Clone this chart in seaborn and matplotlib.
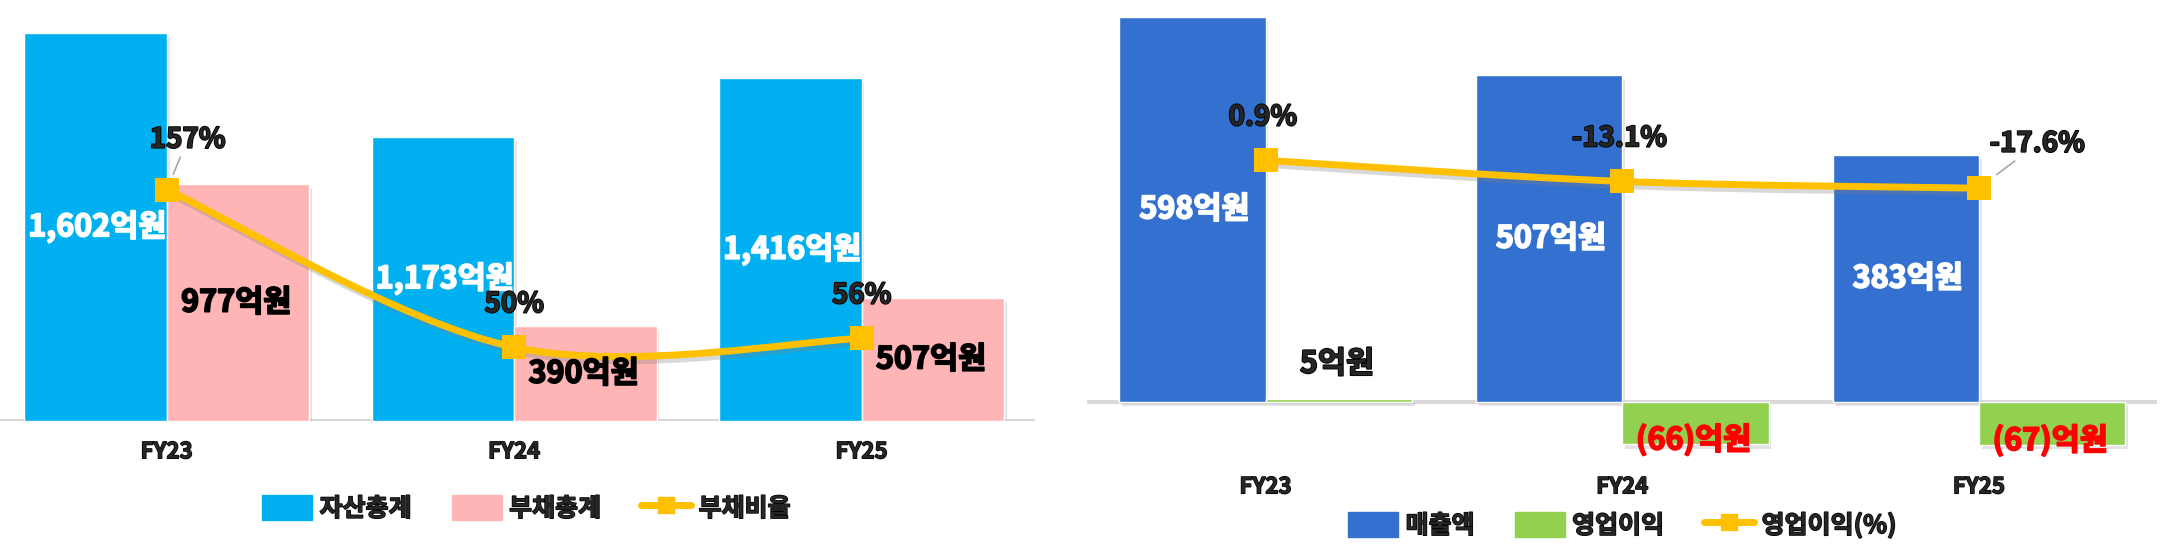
import numpy as np
import pandas as pd
import matplotlib
matplotlib.use('Agg')
import matplotlib.pyplot as plt
import matplotlib.patheffects as pe
from matplotlib.path import Path
from matplotlib.patches import PathPatch, Patch
from matplotlib.lines import Line2D
import seaborn as sns

sns.set_style('white')
plt.rcParams['font.family'] = ['Noto Sans CJK KR', 'DejaVu Sans']
plt.rcParams['font.weight'] = 'heavy'

years = ['FY23', 'FY24', 'FY25']
assets = [1602, 1173, 1416]
liabilities = [977, 390, 507]
debt_ratio = [157, 50, 56]
sales = [598, 507, 383]
op_income = [5, -66, -67]
op_margin = [0.9, -13.1, -17.6]

C_ASSET = '#00B0F0'
C_LIAB = '#FFB5B5'
C_LINE = '#FFC000'
C_SALES = '#3370CF'
C_OP = '#92D050'
C_AXIS = '#D9D9D9'
W = 'heavy'


def thick(color, lw=1.3):
    # fake a heavier font weight
    return [pe.withStroke(linewidth=lw, foreground=color)]


def smooth_path(xs, ys):
    # excel style smoothed line (catmull-rom as bezier)
    pts = np.column_stack([xs, ys]).astype(float)
    ext = np.vstack([pts[0], pts, pts[-1]])
    verts = [pts[0]]
    codes = [Path.MOVETO]
    for i in range(len(pts) - 1):
        p0, p1, p2, p3 = ext[i], ext[i + 1], ext[i + 2], ext[i + 3]
        verts += [p1 + (p2 - p0) / 6, p2 - (p3 - p1) / 6, p2]
        codes += [Path.CURVE4] * 3
    return Path(verts, codes)


def won(v):
    return f'{v:,}억원' if v >= 0 else f'({abs(v)})억원'


def draw_bars(ax, names, vals, colors):
    df = pd.DataFrame({'year': years * 2,
                       'series': [names[0]] * 3 + [names[1]] * 3,
                       'value': list(vals[0]) + list(vals[1])})
    sns.barplot(data=df, x='year', y='value', hue='series', hue_order=names,
                palette=colors, width=0.82, saturation=1, errorbar=None,
                legend=False, ax=ax)
    for p in ax.patches:
        p.set_zorder(2)
        p.set_path_effects([pe.withSimplePatchShadow(offset=(2, -3), shadow_rgbFace='#909090', alpha=0.25)])
    ax.axhline(0, color=C_AXIS, lw=3, zorder=1)
    sns.despine(ax=ax, left=True, bottom=True)
    ax.set_yticks([])
    ax.set_xlabel('')
    ax.set_ylabel('')
    ax.tick_params(axis='x', length=0, pad=14, labelsize=16)
    for t in ax.get_xticklabels():
        t.set_fontweight(W)
        t.set_path_effects(thick('black', 1.0))


def draw_line(ax2, vals):
    x = np.arange(len(vals))
    line = PathPatch(smooth_path(x, vals), facecolor='none', edgecolor=C_LINE, lw=5, zorder=3,
                     path_effects=[pe.SimpleLineShadow(offset=(2, -3), shadow_color='#808080', alpha=0.3), pe.Normal()])
    ax2.add_patch(line)
    sns.scatterplot(x=x, y=vals, marker='s', s=300, color=C_LINE, edgecolor=C_LINE, linewidth=0, zorder=4, ax=ax2)
    ax2.set_yticks([])
    ax2.set_ylabel('')
    for s in ax2.spines.values():
        s.set_visible(False)


fig = plt.figure(figsize=(21.66, 5.48), dpi=100)

# left chart: assets / liabilities / ratio
ax = fig.add_axes([0.0, 0.232, 0.478, 0.755])
draw_bars(ax, ['자산총계', '부채총계'], [assets, liabilities], [C_ASSET, C_LIAB])
ax.set_ylim(0, 1709)
ax2 = ax.twinx()
draw_line(ax2, debt_ratio)
ax2.set_ylim(0, 281)
ax.set_xlim(-0.48, 2.5)
ax2.set_xlim(-0.48, 2.5)

for i, v in enumerate(assets):
    ax2.text(i - 0.2, v / 2, won(v), transform=ax.transData, ha='center', va='center',
             color='white', fontsize=22, fontweight=W, zorder=6, path_effects=thick('white'))
for i, v in enumerate(liabilities):
    ax2.text(i + 0.2, v / 2, won(v), transform=ax.transData, ha='center', va='center',
             color='black', fontsize=22, fontweight=W, zorder=6, path_effects=thick('black'))
for i, v in enumerate(debt_ratio):
    if i == 0:
        ax2.annotate(f'{v}%', (i, v), xytext=(15, 36), textcoords='offset points', ha='center', va='center',
                     fontsize=20, fontweight=W, zorder=6, path_effects=thick('black'),
                     arrowprops=dict(arrowstyle='-', color='#A6A6A6', lw=1.2, shrinkA=0, shrinkB=12))
    else:
        ax2.annotate(f'{v}%', (i, v), xytext=(0, 31), textcoords='offset points', ha='center', va='center',
                     fontsize=20, fontweight=W, zorder=6, path_effects=thick('black'))

h1 = [Patch(color=C_ASSET, label='자산총계'), Patch(color=C_LIAB, label='부채총계'),
      Line2D([], [], color=C_LINE, lw=5, marker='s', markersize=12, label='부채비율')]
leg1 = fig.legend(handles=h1, loc='center', bbox_to_anchor=(0.243, 0.073), ncol=3, frameon=False,
                  prop={'size': 18, 'weight': W}, handlelength=2.0, handleheight=1.2, columnspacing=1.6, handletextpad=0.3)
for t in leg1.get_texts():
    t.set_path_effects(thick('black', 1.0))

# right chart: sales / operating income / margin
bx = fig.add_axes([0.502, 0.168, 0.494, 0.819])
draw_bars(bx, ['매출액', '영업이익'], [sales, op_income], [C_SALES, C_OP])
bx.set_ylim(-84, 613)
bx2 = bx.twinx()
draw_line(bx2, op_margin)
bx2.set_ylim(-195.5, 102.7)
bx.set_xlim(-0.5, 2.5)
bx2.set_xlim(-0.5, 2.5)

for i, v in enumerate(sales):
    bx2.text(i - 0.2, v / 2, won(v), transform=bx.transData, ha='center', va='center',
             color='white', fontsize=22, fontweight=W, zorder=6, path_effects=thick('white'))
for i, v in enumerate(op_income):
    if v >= 0:
        bx2.annotate(won(v), (i + 0.2, v), xycoords=bx.transData, xytext=(0, 25), textcoords='offset points',
                     ha='center', va='center', fontsize=22, fontweight=W, zorder=6, path_effects=thick('black'))
    else:
        bx2.annotate(won(v), (i + 0.2, v), xycoords=bx.transData, xytext=(0, 3), textcoords='offset points',
                     ha='center', va='center', color='#FF0000', fontsize=22, fontweight=W, zorder=6,
                     path_effects=thick('#FF0000'))
for i, v in enumerate(op_margin):
    if i == len(op_margin) - 1:
        bx2.annotate(f'{v}%', (i, v), xytext=(42, 32), textcoords='offset points', ha='center', va='center',
                     fontsize=20, fontweight=W, zorder=6, path_effects=thick('black'),
                     arrowprops=dict(arrowstyle='-', color='#A6A6A6', lw=1.2, shrinkA=0, shrinkB=16))
    else:
        bx2.annotate(f'{v}%', (i, v), xytext=(-2, 31), textcoords='offset points', ha='center', va='center',
                     fontsize=20, fontweight=W, zorder=6, path_effects=thick('black'))

h2 = [Patch(color=C_SALES, label='매출액'), Patch(color=C_OP, label='영업이익'),
      Line2D([], [], color=C_LINE, lw=5, marker='s', markersize=12, label='영업이익(%)')]
leg2 = fig.legend(handles=h2, loc='center', bbox_to_anchor=(0.749, 0.042), ncol=3, frameon=False,
                  prop={'size': 18, 'weight': W}, handlelength=2.0, handleheight=1.2, columnspacing=1.6, handletextpad=0.3)
for t in leg2.get_texts():
    t.set_path_effects(thick('black', 1.0))

fig.savefig('out.png', dpi=100)
